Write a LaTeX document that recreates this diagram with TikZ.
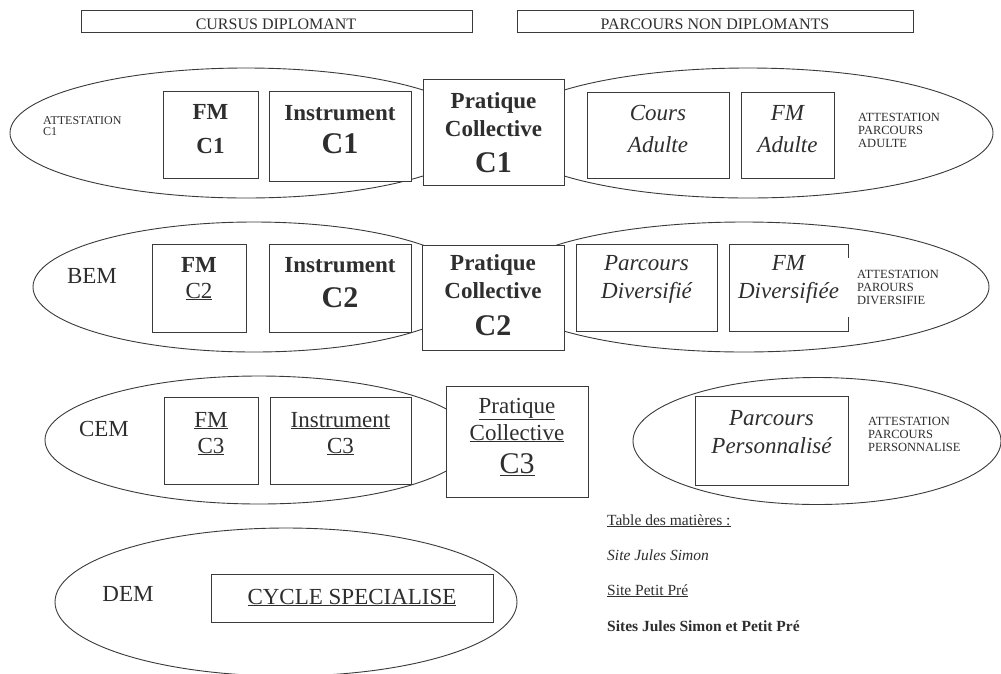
\documentclass[tikz,border=0pt]{standalone}
\usepackage{fontspec}
\setmainfont{Liberation Serif}
\usetikzlibrary{shapes.geometric}
\definecolor{lc}{HTML}{3A3A3A}
\definecolor{tc}{HTML}{2E2E2E}
\begin{document}
\begin{tikzpicture}[x=1pt,y=-1pt,
 box/.style={draw=lc, line width=0.9pt, fill=white, inner sep=0pt, anchor=north west},
 ell/.style={ellipse, draw=lc, line width=0.9pt, inner sep=0pt},
 lab/.style={inner sep=0pt, text=tc, anchor=base},
 fb/.style={font=\fontsize{23}{27}\selectfont\bfseries},
 fB/.style={font=\fontsize{30}{34}\selectfont\bfseries},
 fr/.style={font=\fontsize{23}{27}\selectfont},
 fR/.style={font=\fontsize{30}{34}\selectfont},
 fi/.style={font=\fontsize{23}{27}\selectfont\itshape},
 fs/.style={inner sep=0pt, text=tc, font=\fontsize{12.5}{13.2}\selectfont, align=left, anchor=north west},
 ft/.style={inner sep=0pt, text=tc, anchor=base west, font=\fontsize{15.5}{18}\selectfont},
 fh/.style={inner sep=0pt, text=tc, anchor=base, font=\fontsize{16}{18}\selectfont}]
\useasboundingbox (0,0) rectangle (1001,673);
\fill[white] (0,0) rectangle (1001,673);

% top headers
\node[box, minimum width=391pt, minimum height=22pt] (hd1) at (81,10) {};
\node[fh] (hd1t) at (276,29) {CURSUS DIPLOMANT};
\node[box, minimum width=396pt, minimum height=22pt] (hd2) at (517,10) {};
\node[fh] (hd2t) at (715,29) {PARCOURS NON DIPLOMANTS};

% ---------- row 1
\node[ell, minimum width=472pt, minimum height=130pt] (e1l) at (246,133) {};
\node[ell, minimum width=490pt, minimum height=130pt] (e1r) at (748,133) {};
\node[fs, font=\fontsize{12}{11.5}\selectfont] (at1) at (43,116) {ATTESTATION\\C1};
\node[box, minimum width=95pt, minimum height=87pt] (fm1) at (163,91) {};
\node[lab, fb] (fm1a) at (210.5,119) {FM};
\node[lab, fb] (fm1b) at (210.5,153) {C1};
\node[box, minimum width=142pt, minimum height=90pt] (in1) at (269,91) {};
\node[lab, fb] (in1a) at (340,120) {Instrument};
\node[lab, fB] (in1b) at (340,153) {C1};
\node[box, minimum width=141pt, minimum height=106pt] (pc1) at (423,79) {};
\node[lab, fb] (pc1a) at (493.5,108) {Pratique};
\node[lab, fb] (pc1b) at (493.5,136) {Collective};
\node[lab, fB] (pc1c) at (493.5,172) {C1};
\node[box, minimum width=142pt, minimum height=86pt] (co1) at (587,92) {};
\node[lab, fi] (co1a) at (658,120) {Cours};
\node[lab, fi] (co1b) at (658,152) {Adulte};
\node[box, minimum width=93pt, minimum height=86pt] (fa1) at (741,92) {};
\node[lab, fi] (fa1a) at (787.5,120) {FM};
\node[lab, fi] (fa1b) at (787.5,152) {Adulte};
\node[fs] (at1r) at (858,113) {ATTESTATION\\PARCOURS\\ADULTE};

% ---------- row 2
\node[ell, minimum width=442pt, minimum height=130pt] (e2l) at (254,287) {};
\node[ell, minimum width=490pt, minimum height=130pt] (e2r) at (744,287) {};
\node[lab, fr] (bem) at (92,283) {BEM};
\node[box, minimum width=94pt, minimum height=88pt] (fm2) at (152,244) {};
\node[lab, fb] (fm2a) at (199,272) {FM};
\node[lab, fr] (fm2b) at (199,298) {\underline{C2}};
\node[box, minimum width=142pt, minimum height=88pt] (in2) at (269,244) {};
\node[lab, fb] (in2a) at (340,272) {Instrument};
\node[lab, fB] (in2b) at (340,307) {C2};
\node[box, minimum width=142pt, minimum height=105pt] (pc2) at (422,245) {};
\node[lab, fb] (pc2a) at (493,270) {Pratique};
\node[lab, fb] (pc2b) at (493,298) {Collective};
\node[lab, fB] (pc2c) at (493,335) {C2};
\node[box, minimum width=141pt, minimum height=87pt] (pd2) at (576,244) {};
\node[lab, fi] (pd2a) at (646.5,270) {Parcours};
\node[lab, fi] (pd2b) at (646.5,298) {Diversifié};
\node[box, minimum width=119pt, minimum height=87pt] (fd2) at (729,244) {};
\node[lab, fi] (fd2a) at (788.5,270) {FM};
\node[lab, fi] (fd2b) at (788.5,298) {Diversifiée};
\node[fs, fill=white, inner ysep=12pt, inner xsep=11pt] (at2r) at (846,258) {ATTESTATION\\PAROURS\\DIVERSIFIE};

% ---------- row 3
\node[ell, minimum width=428pt, minimum height=128pt] (e3l) at (259,440) {};
\node[ell, minimum width=368pt, minimum height=127pt] (e3r) at (817,441) {};
\node[lab, fr] (cem) at (104,436) {CEM};
\node[box, minimum width=94pt, minimum height=87pt] (fm3) at (164,397) {};
\node[lab, fr] (fm3a) at (211,427) {\underline{FM}};
\node[lab, fr] (fm3b) at (211,453) {\underline{C3}};
\node[box, minimum width=141pt, minimum height=87pt] (in3) at (270,397) {};
\node[lab, fr] (in3a) at (340.5,427) {\underline{Instrument}};
\node[lab, fr] (in3b) at (340.5,453) {\underline{C3}};
\node[box, minimum width=142pt, minimum height=111pt] (pc3) at (446,386) {};
\node[lab, fr] (pc3a) at (517,413) {\underline{Pratique}};
\node[lab, fr] (pc3b) at (517,440) {\underline{Collective}};
\node[lab, fR] (pc3c) at (517,473) {\underline{C3}};
\node[box, minimum width=153pt, minimum height=89pt] (pp3) at (695,396) {};
\node[lab, fi] (pp3a) at (771.5,425) {Parcours};
\node[lab, fi] (pp3b) at (771.5,453) {Personnalisé};
\node[fs] (at3r) at (868,417) {ATTESTATION\\PARCOURS\\PERSONNALISE};

% ---------- row 4
\node[ell, minimum width=462pt, minimum height=148pt] (e4) at (286,602) {};
\node[lab, fr] (dem) at (128,601) {DEM};
\node[box, minimum width=282pt, minimum height=48pt] (cs4) at (211,574) {};
\node[lab, fr] (cs4a) at (352,604) {\underline{CYCLE SPECIALISE}};

% ---------- legend
\node[ft] (lg1) at (607,525) {\underline{Table des matières :}};
\node[ft] (lg2) at (607,560) {\itshape Site Jules Simon};
\node[ft] (lg3) at (607,595) {\underline{Site Petit Pré}};
\node[ft] (lg4) at (607,631) {\bfseries Sites Jules Simon et Petit Pré};
\end{tikzpicture}
\end{document}
